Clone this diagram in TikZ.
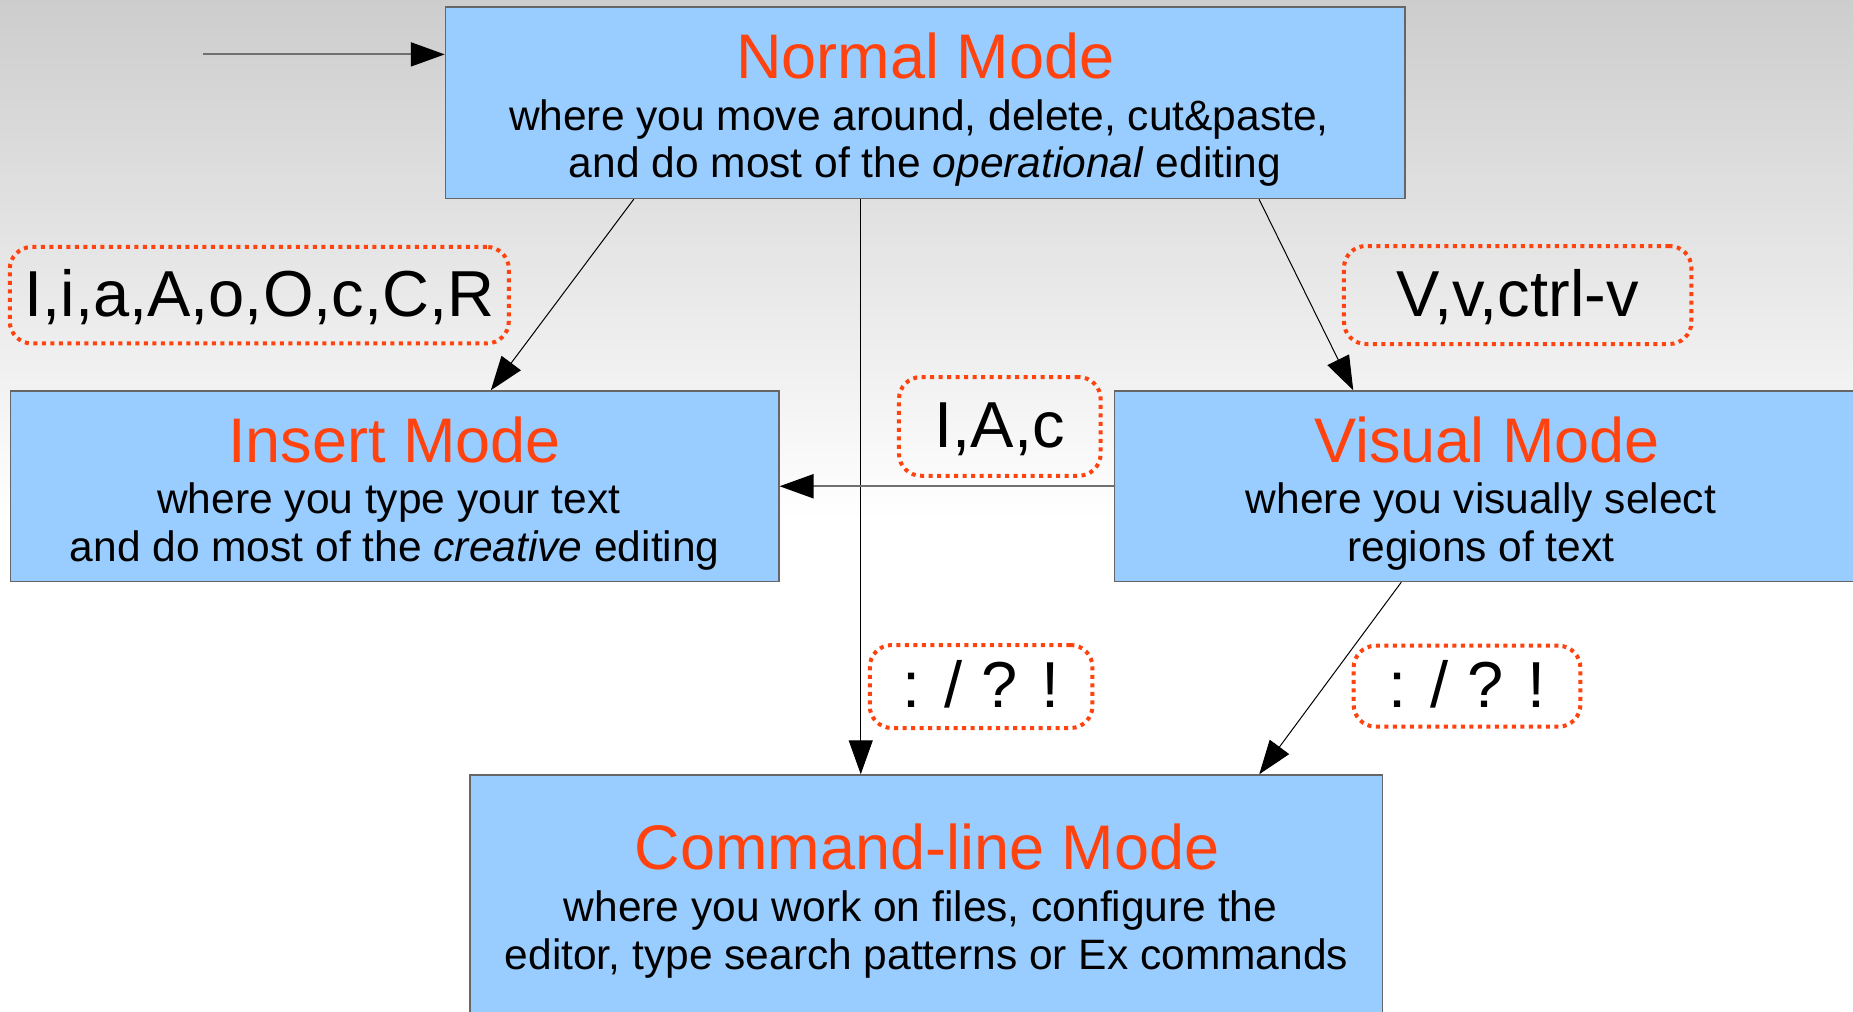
\documentclass[tikz,border=0pt]{standalone}
\usepackage{fontspec}
\setmainfont{Liberation Sans}
\usetikzlibrary{arrows.meta}

\definecolor{boxfill}{HTML}{99CCFF}
\definecolor{modered}{HTML}{FF420E}
\definecolor{edgegray}{HTML}{666666}
\definecolor{bgtop}{HTML}{CDCDCD}
\definecolor{linegray}{HTML}{707070}

\tikzset{
  modebox/.style={draw=edgegray, line width=1.5pt, fill=boxfill, rectangle, inner sep=0pt},
  modetitle/.style={anchor=base, inner sep=0pt, text=modered, font=\fontsize{63pt}{70pt}\selectfont},
  modetext/.style={anchor=base, inner sep=0pt, font=\fontsize{42.5pt}{47pt}\selectfont},
  keybox/.style={draw=modered, line width=4pt, dash pattern=on 4pt off 4.5pt,
    rounded corners=22pt, rectangle, inner sep=0pt, text height=50pt, text depth=8pt,
    font=\fontsize{65pt}{70pt}\selectfont},
  conn/.style={draw=black, line width=1pt, -{Triangle[length=34pt,width=24pt]}},
  grayconn/.style={draw=linegray, line width=2pt, -{Triangle[length=34pt,width=24pt,fill=black,color=black]}}
}

\begin{document}
\begin{tikzpicture}[x=1pt, y=-1pt]
  \useasboundingbox (0,0) rectangle (1853,1012);
  \clip (0,0) rectangle (1853,1012);

  % background: gray fading to white
  \shade[top color=bgtop, bottom color=white] (0,0) rectangle (1853,520);
  \fill[white] (0,519) rectangle (1853,1012);

  % mode boxes
  \node[modebox, minimum width=959.5pt, minimum height=191.5pt] (normal) at (925.25,102.75) {};
  \node[modebox, minimum width=768.2pt, minimum height=190.5pt] (insert) at (394.7,486.25) {};
  \node[modebox, minimum width=745pt, minimum height=190.5pt] (visual) at (1487,486.25) {};
  \node[modebox, minimum width=912.7pt, minimum height=250pt] (command) at (926.35,900) {};

  % titles and descriptions
  \node[modetitle] (normal-t) at (925.4,78) {Normal Mode};
  \node[modetext] (normal-l1) at (918.9,130) {where you move around, delete, cut\&paste,};
  \node[modetext] (normal-l2) at (925,177) {and do most of the \textit{operational} editing};

  \node[modetitle] (insert-t) at (394.7,462.5) {Insert Mode};
  \node[modetext] (insert-l1) at (388.8,513) {where you type your text};
  \node[modetext] (insert-l2) at (394.7,561.7) {and do most of the \textit{creative} editing};

  \node[modetitle] (visual-t) at (1487.3,462.5) {Visual Mode};
  \node[modetext] (visual-l1) at (1481,513) {where you visually select};
  \node[modetext] (visual-l2) at (1481,561.7) {regions of text};

  \node[modetitle] (command-t) at (927,869.5) {Command-line Mode};
  \node[modetext] (command-l1) at (920.6,921.6) {where you work on files, configure the};
  \node[modetext] (command-l2) at (926.5,969) {editor, type search patterns or Ex commands};

  % key labels
  \node[keybox, minimum width=499pt, minimum height=96.5pt] (k-insert) at (259.3,295.2) {I,i,a,A,o,O,c,C,R};
  \node[keybox, minimum width=347.5pt, minimum height=98pt] (k-visual) at (1517.7,295) {V,v,ctrl-v};
  \node[keybox, minimum width=201.7pt, minimum height=98.7pt] (k-back) at (999.8,426.4) {I,A,c};
  \node[keybox, minimum width=222.7pt, minimum height=83pt] (k-cmd1) at (981.1,686.5) {: / ? !};
  \node[keybox, minimum width=226.8pt, minimum height=81pt] (k-cmd2) at (1467,686.2) {: / ? !};

  % transitions
  \coordinate (entry) at (203,54.4);
  \draw[grayconn] (entry) -- (entry -| normal.west);
  \draw[conn] ([xshift=189pt]normal.south west) -- ([xshift=481pt]insert.north west);
  \draw[conn] ([xshift=416pt]normal.south west) -- ([xshift=416pt]normal.south west |- command.north);
  \draw[conn] ([xshift=814.3pt]normal.south west) -- ([xshift=239.5pt]visual.north west);
  \draw[grayconn] (visual.west) -- (insert.east);
  \draw[conn] ([xshift=287.5pt]visual.south west) -- ([xshift=790pt]command.north west);
\end{tikzpicture}
\end{document}
